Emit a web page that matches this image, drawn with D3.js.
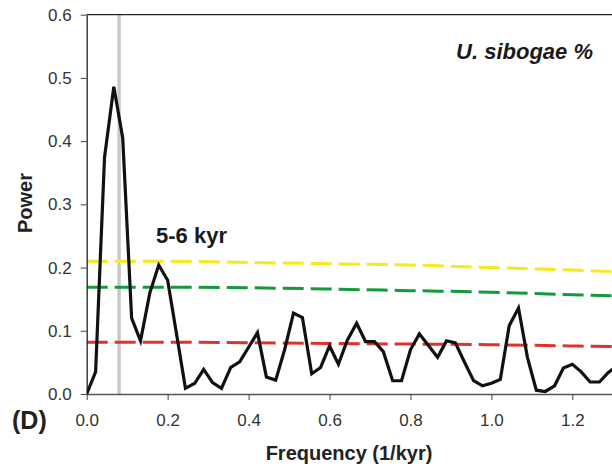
<!DOCTYPE html>
<html>
<head>
<meta charset="utf-8">
<script src="https://cdn.jsdelivr.net/npm/d3@7"></script>
<style>
  html, body { margin: 0; padding: 0; background: #ffffff; }
  svg { display: block; font-family: "Liberation Sans", Arial, sans-serif; }
</style>
</head>
<body>
<svg id="chart" width="612" height="470"></svg>
<script>
// Power spectrum of U. sibogae %
const frequency = [
  0.000, 0.022, 0.044, 0.067, 0.089, 0.111, 0.133, 0.156, 0.178, 0.200,
  0.222, 0.244, 0.267, 0.289, 0.311, 0.333, 0.356, 0.378, 0.400, 0.422,
  0.444, 0.467, 0.489, 0.511, 0.533, 0.556, 0.578, 0.600, 0.622, 0.644,
  0.667, 0.689, 0.711, 0.733, 0.756, 0.778, 0.800, 0.822, 0.844, 0.867,
  0.889, 0.911, 0.933, 0.956, 0.978, 1.000, 1.022, 1.044, 1.067, 1.089,
  1.111, 1.133, 1.156, 1.178, 1.200, 1.222, 1.244, 1.267, 1.289, 1.311
];
const power = [
  0.000, 0.035, 0.374, 0.486, 0.405, 0.120, 0.084, 0.160, 0.204, 0.180,
  0.095, 0.009, 0.017, 0.039, 0.018, 0.009, 0.042, 0.051, 0.074, 0.097,
  0.027, 0.022, 0.070, 0.128, 0.121, 0.032, 0.042, 0.076, 0.047, 0.085,
  0.112, 0.083, 0.083, 0.067, 0.021, 0.021, 0.070, 0.095, 0.077, 0.058,
  0.084, 0.081, 0.051, 0.021, 0.013, 0.017, 0.023, 0.108, 0.136, 0.058,
  0.006, 0.004, 0.013, 0.041, 0.047, 0.035, 0.019, 0.019, 0.034, 0.045
];

// Significance levels (red-noise background)
const levelFreq = [0.0, 0.2, 0.4, 0.6, 0.8, 1.0, 1.2, 1.3];
const level99 = [0.210, 0.210, 0.208, 0.206, 0.204, 0.200, 0.196, 0.1935];
const level95 = [0.169, 0.169, 0.168, 0.166, 0.1635, 0.161, 0.157, 0.1555];
const level80 = [0.082, 0.082, 0.081, 0.080, 0.079, 0.078, 0.076, 0.075];

const xTicks = [0.0, 0.2, 0.4, 0.6, 0.8, 1.0, 1.2];
const yTicks = [0.0, 0.1, 0.2, 0.3, 0.4, 0.5, 0.6];
const markedFreq = 0.08;

const svg = d3.select("#chart");
const plotLeft = 86.7, plotRight = 612, plotTop = 14.7, plotBottom = 394;

const x = d3.scaleLinear().domain([0, 1.298]).range([plotLeft, plotRight]);
const y = d3.scaleLinear().domain([0, 0.6]).range([plotBottom, plotTop]);

svg.append("defs").append("clipPath").attr("id", "plotClip")
  .append("rect").attr("x", plotLeft).attr("y", plotTop - 5)
  .attr("width", plotRight - plotLeft).attr("height", plotBottom - plotTop + 10);

const plot = svg.append("g").attr("clip-path", "url(#plotClip)");

// marked period
plot.append("line")
  .attr("x1", x(markedFreq)).attr("x2", x(markedFreq))
  .attr("y1", y(0)).attr("y2", y(0.6))
  .attr("stroke", "#c8c8c8").attr("stroke-width", 3.5);

const levelLine = d3.line()
  .x((d, i) => x(levelFreq[i]))
  .y(d => y(d))
  .curve(d3.curveMonotoneX);

[[level99, "#f5ea1a"], [level95, "#119a3c"], [level80, "#e0322c"]].forEach(([vals, col]) => {
  plot.append("path")
    .attr("d", levelLine(vals))
    .attr("fill", "none")
    .attr("stroke", col)
    .attr("stroke-width", 3)
    .attr("stroke-dasharray", "21,7");
});

const specLine = d3.line()
  .x((d, i) => x(frequency[i]))
  .y(d => y(d));

plot.append("path")
  .attr("d", specLine(power))
  .attr("fill", "none")
  .attr("stroke", "#111")
  .attr("stroke-width", 3.2)
  .attr("stroke-linejoin", "miter");

// frame: top line
svg.append("line")
  .attr("x1", plotLeft).attr("x2", plotRight).attr("y1", plotTop).attr("y2", plotTop)
  .attr("stroke", "#222").attr("stroke-width", 1.3);

// axes
const xAxis = svg.append("g")
  .attr("transform", `translate(0,${plotBottom})`)
  .call(d3.axisBottom(x).tickValues(xTicks).tickFormat(d3.format(".1f"))
    .tickSizeInner(6).tickSizeOuter(0).tickPadding(14));
xAxis.select(".domain").attr("stroke", "#555").attr("stroke-width", 1.5);
xAxis.selectAll(".tick line").attr("stroke", "#444").attr("stroke-width", 1);
xAxis.selectAll("text").attr("font-size", 17).attr("fill", "#333")
  .attr("font-family", "Liberation Sans, Arial, sans-serif");

const yAxis = svg.append("g")
  .attr("transform", `translate(${plotLeft},0)`)
  .call(d3.axisLeft(y).tickValues(yTicks).tickFormat(d3.format(".1f"))
    .tickSizeInner(6).tickSizeOuter(0).tickPadding(9));
yAxis.select(".domain").attr("stroke", "#222").attr("stroke-width", 1.3);
yAxis.selectAll(".tick line").attr("stroke", "#444").attr("stroke-width", 1);
yAxis.selectAll("text").attr("font-size", 17).attr("fill", "#333")
  .attr("font-family", "Liberation Sans, Arial, sans-serif");

// titles
svg.append("text")
  .attr("x", 349).attr("y", 460)
  .attr("text-anchor", "middle")
  .attr("font-size", 20).attr("font-weight", "bold").attr("fill", "#222")
  .text("Frequency (1/kyr)");

svg.append("text")
  .attr("transform", "translate(32,203) rotate(-90)")
  .attr("text-anchor", "middle")
  .attr("font-size", 20).attr("font-weight", "bold").attr("fill", "#222")
  .text("Power");

svg.append("text")
  .attr("x", 12).attr("y", 429)
  .attr("font-size", 25).attr("font-weight", "bold").attr("fill", "#222")
  .text("(D)");

svg.append("text")
  .attr("x", 156).attr("y", 243)
  .attr("font-size", 22).attr("font-weight", "bold").attr("fill", "#1a1a1a")
  .text("5-6 kyr");

svg.append("text")
  .attr("x", 593).attr("y", 59)
  .attr("text-anchor", "end")
  .attr("font-size", 22).attr("font-weight", "bold").attr("font-style", "italic")
  .attr("fill", "#1a1a1a")
  .text("U. sibogae %");
</script>
</body>
</html>
